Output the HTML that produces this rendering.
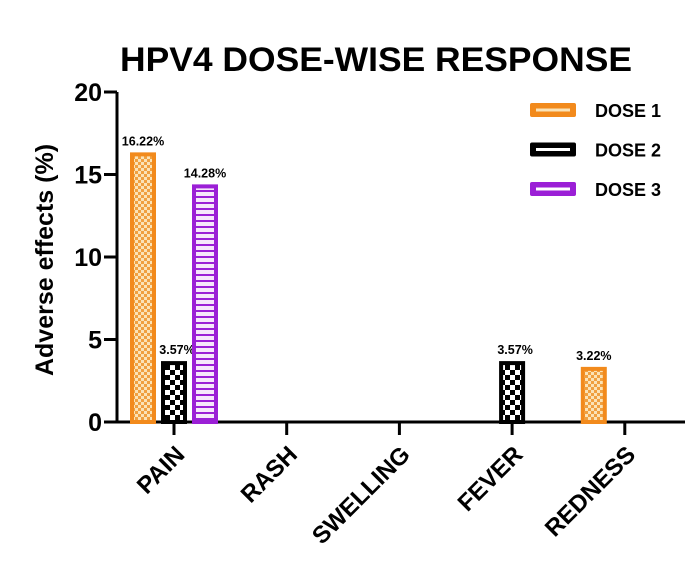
<!DOCTYPE html>
<html><head><meta charset="utf-8"><style>
body{margin:0;background:#fff}
svg{display:block;font-family:"Liberation Sans",sans-serif;font-weight:bold}
</style></head><body>
<svg id="chart" width="699" height="568" viewBox="0 0 699 568">
<defs>
<pattern id="p1" width="6" height="6" patternUnits="userSpaceOnUse"><rect width="6" height="6" fill="#fbe3b6"/><rect width="3" height="3" fill="#f0a040"/><rect x="3" y="3" width="3" height="3" fill="#f0a040"/></pattern>
<pattern id="p2" width="10" height="10" patternUnits="userSpaceOnUse"><rect width="10" height="10" fill="#fff"/><rect width="5" height="5" fill="#000"/><rect x="5" y="5" width="5" height="5" fill="#000"/></pattern>
<pattern id="p3" width="10" height="6" patternUnits="userSpaceOnUse"><rect width="10" height="6" fill="#f6e6fb"/><rect y="4" width="10" height="2" fill="#9b1fd6"/></pattern>
</defs>
<text x="376" y="71" text-anchor="middle" font-size="34" textLength="512" lengthAdjust="spacingAndGlyphs">HPV4 DOSE-WISE RESPONSE</text>
<text transform="translate(53,260) rotate(-90)" text-anchor="middle" font-size="25">Adverse effects (%)</text>
<g id="axes"></g><g id="bars"></g><g id="legend"></g>
</svg>
<script>
const categories=["PAIN","RASH","SWELLING","FEVER","REDNESS"];
const seriesNames=["DOSE 1","DOSE 2","DOSE 3"];
const dose1=[16.22,0,0,0,3.22];
const dose2=[3.57,0,0,3.57,0];
const dose3=[14.28,0,0,0,0];
const yTicks=[0,5,10,15,20];
const labels1=["16.22%","","","","3.22%"];
const labels2=["3.57%","","","3.57%",""];
const labels3=["14.28%","","","",""];
const NS="http://www.w3.org/2000/svg";
const y0=422,yTop=92,yMax=20;
const y=v=>y0-(y0-yTop)*v/yMax;
const x=i=>174+112.7*i;
function mk(t,a,p){const e=document.createElementNS(NS,t);for(const k in a)e.setAttribute(k,a[k]);p.appendChild(e);return e;}
const axes=document.getElementById('axes');
const ax=mk('line',{x1:117,y1:yTop,x2:117,y2:y0+1.5,stroke:'#000','stroke-width':3},axes);


const bx=mk('line',{x1:107,y1:y0,x2:685,y2:y0,stroke:'#000','stroke-width':3},axes);


yTicks.forEach(v=>{
 const l=mk('line',{x1:104,y1:y(v),x2:117,y2:y(v),stroke:'#000','stroke-width':3},axes);
 
 
 const t=mk('text',{x:102,y:y(v)+9,'text-anchor':'end','font-size':25},axes);t.textContent=v;
 
 
});
categories.forEach((c,i)=>{
 const l=mk('line',{x1:x(i),y1:y0,x2:x(i),y2:y0+13,stroke:'#000','stroke-width':3},axes);
 
 
 const t=mk('text',{transform:`translate(${x(i)+12},${y0+34}) rotate(-45)`,'text-anchor':'end','font-size':24},axes);t.textContent=c;
 
 
});
const series=[dose1,dose2,dose3],lbls=[labels1,labels2,labels3];
const fills=['url(#p1)','url(#p2)','url(#p3)'],strokes=['#f28a1c','#000','#9b1fd6'];
const offs=[-31,0,31],bw=22;
const bars=document.getElementById('bars');
series.forEach((s,k)=>s.forEach((v,i)=>{
 if(v<=0)return;
 const cx=x(i)+offs[k];
 const r=mk('rect',{x:cx-bw/2,y:y(v),width:bw,height:y0-y(v),fill:fills[k],stroke:strokes[k],'stroke-width':4},bars);
 
 
 if(lbls[k][i]){const t=mk('text',{x:cx+(k==1?3:0),y:y(v)-9,'text-anchor':'middle','font-size':12.5},bars);t.textContent=lbls[k][i];
 
 }
}));
const leg=document.getElementById('legend');
const legFill=['#f28a1c','#000','#9b1fd6'],legInner=['#fbe3b6','#fff','#fff'];
seriesNames.forEach((n,k)=>{
 const g=mk('g',{},leg);
 
 
 const yy=110+39.5*k;
 mk('rect',{x:530,y:yy-7,width:46,height:14,rx:2,fill:legFill[k]},g);
 mk('rect',{x:536,y:yy-1.5,width:34,height:3,fill:legInner[k]},g);
 const t=mk('text',{x:595,y:yy+7,'font-size':18},g);t.textContent=n;
});
</script>
</body></html>
